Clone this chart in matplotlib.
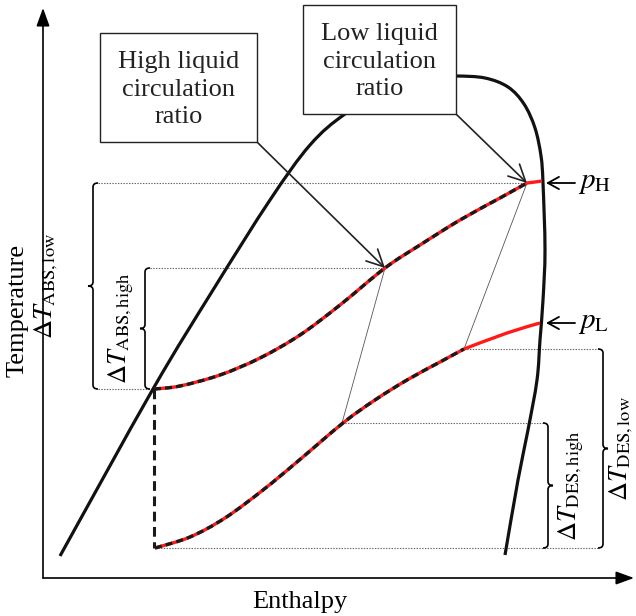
import numpy as np
import matplotlib
matplotlib.use("Agg")
import matplotlib.pyplot as plt
from matplotlib.path import Path
from matplotlib.patches import PathPatch, Rectangle, FancyArrowPatch

plt.rcParams["font.family"] = ["Liberation Serif", "DejaVu Serif"]
plt.rcParams["mathtext.fontset"] = "stix"
plt.rcParams["lines.scale_dashes"] = False

# ---- schematic data (enthalpy h, temperature T in drawing units) ----
# saturation dome
dome_h = [60, 153, 213, 270, 310, 345, 390, 430, 456, 485, 508, 524, 535, 541,
          543, 545, 543, 540, 537, 528, 518, 505]
dome_T = [60, 227, 326, 416, 471, 502, 528, 539, 540, 538, 529, 512, 488, 460,
          433, 366, 316, 276, 236, 186, 136, 61]

# absorption line at p_H (dashed part = two-phase solution)
abs_h = [154, 180, 220, 260, 300, 340, 385, 420, 460, 500, 527]
abs_T = [227, 230, 241, 258, 281, 311, 348, 371, 396, 418, 433]
abs_tail_h = [527, 535, 542]
abs_tail_T = [433, 434, 435]

# desorption line at p_L
des_h = [155, 190, 225, 263, 297, 343, 375, 407, 440, 464]
des_T = [68, 79, 98, 126, 154, 193, 216, 236, 254, 267]
des_tail_h = [464, 507, 540]
des_tail_T = [267, 283, 293]

# end states of the two circulation ratios
high_abs = (385, 348)
high_des = (342, 193)
low_abs = (527, 433)
low_des = (464, 267)
p_H_point = (546, 433)
p_L_point = (546, 293)

W, H = 636, 616
fig = plt.figure(figsize=(W / 100, H / 100), dpi=100)
ax = fig.add_axes([0, 0, 1, 1])
ax.set_xlim(0, W)
ax.set_ylim(0, H)
ax.axis("off")


def smooth_path(xs, ys):
    pts = np.column_stack([xs, ys]).astype(float)
    n = len(pts)
    verts = [pts[0]]
    codes = [Path.MOVETO]
    for i in range(n - 1):
        p0 = pts[i - 1] if i > 0 else pts[i]
        p1 = pts[i]
        p2 = pts[i + 1]
        p3 = pts[i + 2] if i + 2 < n else pts[i + 1]
        c1 = p1 + (p2 - p0) / 6.0
        c2 = p2 - (p3 - p1) / 6.0
        verts += [c1, c2, p2]
        codes += [Path.CURVE4] * 3
    return Path(verts, codes)


def draw_curve(xs, ys, **kw):
    ax.add_patch(PathPatch(smooth_path(xs, ys), fill=False, **kw))


# axes with arrows
ax.add_patch(FancyArrowPatch((43, 38), (43, 608), arrowstyle="-|>,head_length=0.55,head_width=0.2",
                             mutation_scale=20, lw=1.2, color="black", shrinkA=0, shrinkB=0))
ax.add_patch(FancyArrowPatch((43, 38), (634, 38), arrowstyle="-|>,head_length=0.55,head_width=0.2",
                             mutation_scale=20, lw=1.2, color="black", shrinkA=0, shrinkB=0))
ax.text(18, 306, "Temperature", rotation=90, ha="center", va="center", fontsize=19)
ax.text(300, 14, "Enthalpy", ha="center", va="center", fontsize=19)

# saturation dome
draw_curve(dome_h, dome_T, lw=2.3, edgecolor="#111111", capstyle="butt", zorder=3)

# thin dotted guides
dot = dict(color="#666666", lw=0.8, linestyle=(0, (1, 1)), zorder=2)
ax.plot([98, low_abs[0]], [low_abs[1]] * 2, **dot)
ax.plot([150, high_abs[0]], [high_abs[1]] * 2, **dot)
ax.plot([98, abs_h[0]], [abs_T[0]] * 2, **dot)
ax.plot([low_des[0], 598], [low_des[1]] * 2, **dot)
ax.plot([high_des[0], 543], [high_des[1]] * 2, **dot)
ax.plot([des_h[0], 598], [des_T[0]] * 2, **dot)

# thin links between absorber and desorber end states
ax.plot([high_abs[0], high_des[0]], [high_abs[1], high_des[1]], color="#555555", lw=0.6, zorder=2)
ax.plot([low_abs[0], low_des[0]], [low_abs[1], low_des[1]], color="#555555", lw=0.6, zorder=2)

# process lines: red underlay with black dashes on top
for hs, ts, tail_h, tail_T in [(abs_h, abs_T, abs_tail_h, abs_tail_T),
                               (des_h, des_T, des_tail_h, des_tail_T)]:
    draw_curve(hs, ts, lw=2.4, edgecolor="#ff1a1a", capstyle="butt", zorder=4)
    draw_curve(hs, ts, lw=2.4, edgecolor="#1a1a1a", linestyle=(0, (5, 3)), capstyle="butt", zorder=5)
    draw_curve(tail_h, tail_T, lw=2.4, edgecolor="#ff1a1a", capstyle="butt", zorder=4)

# vertical dashed connection between the two pressure levels
ax.plot([abs_h[0], abs_h[0]], [abs_T[0], des_T[0]], color="#1a1a1a", lw=2.2,
        linestyle=(0, (7, 4)), zorder=5)


def brace(x, lo, hi, d, w=5, r=4):
    mid = 0.5 * (lo + hi)
    verts = [(x + d * w, hi), (x, hi), (x, hi - r),
             (x, mid + r), (x, mid), (x - d * w, mid),
             (x, mid), (x, mid - r),
             (x, lo + r), (x, lo), (x + d * w, lo)]
    codes = [Path.MOVETO, Path.CURVE3, Path.CURVE3,
             Path.LINETO, Path.CURVE3, Path.CURVE3,
             Path.CURVE3, Path.CURVE3,
             Path.LINETO, Path.CURVE3, Path.CURVE3]
    ax.add_patch(PathPatch(Path(verts, codes), fill=False, lw=1.2, edgecolor="black", zorder=4))
    return mid


m = brace(93, abs_T[0], low_abs[1], +1)
ax.text(46, m, r"$\Delta T_{\mathrm{ABS,low}}$", rotation=90, ha="center", va="center", fontsize=19)
m = brace(145, abs_T[0], high_abs[1], +1)
ax.text(121, m, r"$\Delta T_{\mathrm{ABS,high}}$", rotation=90, ha="center", va="center", fontsize=19)
m = brace(548, des_T[0], high_des[1], -1)
ax.text(571, m, r"$\Delta T_{\mathrm{DES,high}}$", rotation=90, ha="center", va="center", fontsize=19)
m = brace(603, des_T[0], low_des[1], -1)
ax.text(621, m, r"$\Delta T_{\mathrm{DES,low}}$", rotation=90, ha="center", va="center", fontsize=19)

# pressure labels
for pt, lab in [(p_H_point, r"$p_{\mathrm{H}}$"), (p_L_point, r"$p_{\mathrm{L}}$")]:
    ax.add_patch(FancyArrowPatch((pt[0] + 29, pt[1]), pt, arrowstyle="->,head_length=0.4,head_width=0.22",
                                 mutation_scale=20, lw=1.3, color="black", shrinkA=0, shrinkB=0, zorder=6))
    ax.text(pt[0] + 32, pt[1], lab, ha="left", va="center", fontsize=21)

# call-out boxes
boxes = [((100, 474, 157, 109), "High liquid\ncirculation\nratio", high_abs),
         ((303, 502, 153, 109), "Low liquid\ncirculation\nratio", low_abs)]
for (bx, by, bw, bh), txt, target in boxes:
    ax.add_patch(Rectangle((bx, by), bw, bh, facecolor="white", edgecolor="#222222", lw=1.0, zorder=7))
    ax.text(bx + bw / 2, by + bh / 2 - 2, txt, ha="center", va="center", fontsize=19,
            linespacing=1.35, color="#222222", zorder=8)
    ax.add_patch(FancyArrowPatch((bx + bw, by), target, arrowstyle="->,head_length=0.6,head_width=0.3",
                                 mutation_scale=20, lw=1.2, color="#222222", shrinkA=0, shrinkB=0, zorder=6))

fig.savefig("out.png", dpi=100)
